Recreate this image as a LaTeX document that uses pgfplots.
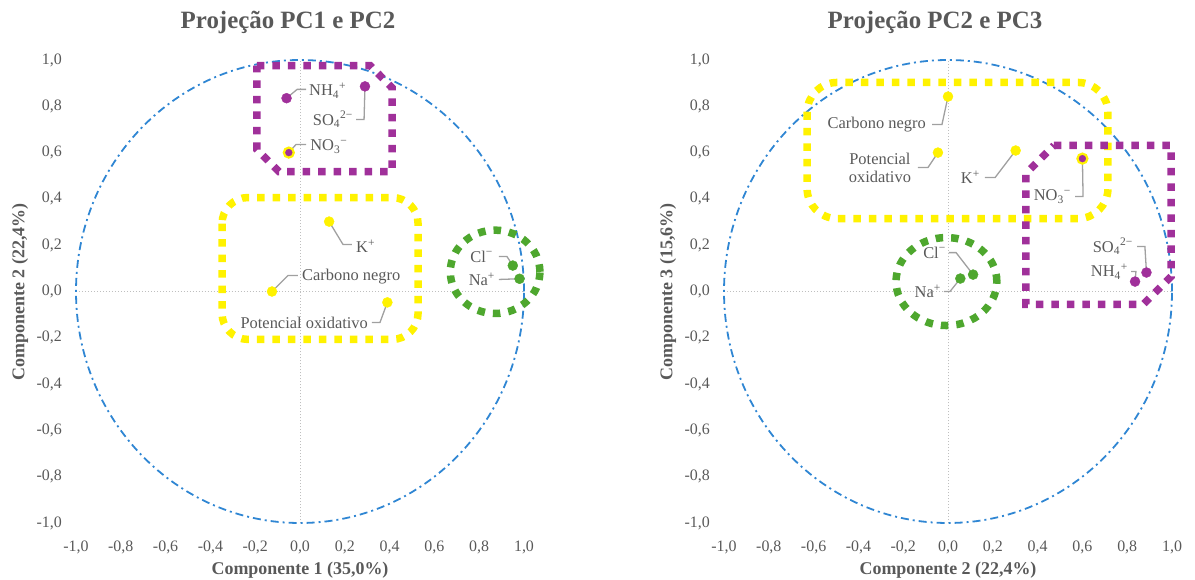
\documentclass[border=0pt]{standalone}
\usepackage{fontspec}
\setmainfont{Liberation Serif}
\usepackage{pgfplots}
\pgfplotsset{compat=1.18}
\definecolor{txt}{HTML}{595959}
\definecolor{circ}{HTML}{2F86D3}
\definecolor{ylw}{HTML}{FFF200}
\definecolor{pur}{HTML}{A0309A}
\definecolor{grn}{HTML}{4EA72E}
\definecolor{lead}{HTML}{A0A0A0}
\definecolor{zero}{HTML}{BFBFBF}
\newcommand\lbl{\fontsize{16.5}{18}\selectfont}
\tikzset{
  box/.style={line width=7.5bp, dash pattern=on 7.5bp off 8bp},
  ldr/.style={lead, line width=1.3bp},
  lab/.style={text=txt, font=\lbl, inner sep=0pt},
}
\pgfplotsset{
  pcastyle/.style={
    scale only axis, width=448bp, height=463bp,
    xmin=-1, xmax=1, ymin=-1, ymax=1,
    axis line style={draw=none},
    major tick length=0pt,
    xtick={-1,-0.8,-0.6,-0.4,-0.2,0,0.2,0.4,0.6,0.8,1},
    ytick={-1,-0.8,-0.6,-0.4,-0.2,0,0.2,0.4,0.6,0.8,1},
    xticklabels={{-1,0},{-0,8},{-0,6},{-0,4},{-0,2},{0,0},{0,2},{0,4},{0,6},{0,8},{1,0}},
    yticklabels={{-1,0},{-0,8},{-0,6},{-0,4},{-0,2},{0,0},{0,2},{0,4},{0,6},{0,8},{1,0}},
    ticklabel style={font=\fontsize{16}{18}\selectfont, text=txt},
    yticklabel style={anchor=east, inner sep=0pt, xshift=-14bp},
    xticklabel style={anchor=base, inner sep=0pt, yshift=-29bp},
    clip=false,
    anchor=south west,
  },
  pts/.style={only marks, mark=*, mark size=5bp},
}
\begin{document}
\begin{tikzpicture}
\path[use as bounding box] (0,0) rectangle (1195bp,580bp);
% titles and axis labels
\node[text=txt, font=\fontsize{25}{28}\selectfont\bfseries] at (288bp,558bp) {Projeção PC1 e PC2};
\node[text=txt, font=\fontsize{25}{28}\selectfont\bfseries] at (935bp,558bp) {Projeção PC2 e PC3};
\node[text=txt, font=\fontsize{18}{20}\selectfont\bfseries] at (300bp,10bp) {Componente 1 (35,0\%)};
\node[text=txt, font=\fontsize{18}{20}\selectfont\bfseries] at (948bp,10bp) {Componente 2 (22,4\%)};
\node[text=txt, font=\fontsize{18}{20}\selectfont\bfseries, rotate=90] at (20bp,288bp) {Componente 2 (22,4\%)};
\node[text=txt, font=\fontsize{18}{20}\selectfont\bfseries, rotate=90] at (668bp,288bp) {Componente 3 (15,6\%)};

% ---------------- left: PC1 vs PC2
\begin{axis}[pcastyle, at={(76bp,57bp)}]
\draw[zero, line width=1bp, dotted] (axis cs:-1,0) -- (axis cs:1,0);
\draw[zero, line width=1bp, dotted] (axis cs:0,-1) -- (axis cs:0,1);
\draw[circ, line width=1.8bp, dash pattern=on 8bp off 4bp on 2bp off 4bp] (axis cs:0,0) ellipse [x radius=1, y radius=1];
% groups
\draw[box, ylw, rounded corners=26bp] (axis cs:-0.348,0.406) rectangle (axis cs:0.527,-0.207);
\draw[box, pur] (axis cs:-0.192,0.976) -- (axis cs:0.313,0.976) -- (axis cs:0.411,0.88) -- (axis cs:0.411,0.518) -- (axis cs:-0.094,0.518) -- (axis cs:-0.192,0.613) -- cycle;
\draw[box, grn] (axis cs:0.871,0.085) ellipse [x radius=0.20, y radius=0.18];
% leaders
\draw[ldr] (axis cs:-0.06,0.835) -- (axis cs:-0.013,0.873) -- (axis cs:0.027,0.873);
\draw[ldr] (axis cs:0.25,0.743) -- (axis cs:0.286,0.743) -- (axis cs:0.29,0.886);
\draw[ldr] (axis cs:-0.05,0.60) -- (axis cs:-0.018,0.635) -- (axis cs:0.027,0.635);
\draw[ldr] (axis cs:0.13,0.302) -- (axis cs:0.192,0.203) -- (axis cs:0.232,0.203);
\draw[ldr] (axis cs:-0.125,0.0) -- (axis cs:-0.054,0.069) -- (axis cs:-0.009,0.069);
\draw[ldr] (axis cs:0.321,-0.134) -- (axis cs:0.357,-0.134) -- (axis cs:0.39,-0.047);
\draw[ldr] (axis cs:0.888,0.151) -- (axis cs:0.924,0.151) -- (axis cs:0.95,0.112);
\draw[ldr] (axis cs:0.888,0.052) -- (axis cs:0.98,0.055);
% points
\addplot[pts, mark options={fill=pur, draw=pur}] coordinates {(-0.06,0.835) (0.29,0.886)};
\addplot[pts, mark options={fill=pur, draw=ylw, line width=2.2bp}] coordinates {(-0.05,0.60)};
\addplot[pts, mark options={fill=ylw, draw=ylw}] coordinates {(0.13,0.302) (-0.125,0.0) (0.39,-0.047)};
\addplot[pts, mark options={fill=grn, draw=grn}] coordinates {(0.95,0.112) (0.98,0.055)};
% labels
\node[lab, anchor=west] at (axis cs:0.04,0.868) {NH\textsubscript{4}\textsuperscript{+}};
\node[lab, anchor=east] at (axis cs:0.237,0.743) {SO\textsubscript{4}\textsuperscript{2−}};
\node[lab, anchor=west] at (axis cs:0.045,0.626) {NO\textsubscript{3}\textsuperscript{−}};
\node[lab, anchor=west] at (axis cs:0.25,0.194) {K\textsuperscript{+}};
\node[lab, anchor=west] at (axis cs:0.009,0.065) {Carbono negro};
\node[lab, anchor=east] at (axis cs:0.304,-0.134) {Potencial oxidativo};
\node[lab, anchor=east] at (axis cs:0.862,0.151) {Cl\textsuperscript{−}};
\node[lab, anchor=east] at (axis cs:0.871,0.052) {Na\textsuperscript{+}};
\end{axis}

% ---------------- right: PC2 vs PC3
\begin{axis}[pcastyle, at={(724bp,57bp)}]
\draw[zero, line width=1bp, dotted] (axis cs:-1,0) -- (axis cs:1,0);
\draw[zero, line width=1bp, dotted] (axis cs:0,-1) -- (axis cs:0,1);
\draw[circ, line width=1.8bp, dash pattern=on 8bp off 4bp on 2bp off 4bp] (axis cs:0,0) ellipse [x radius=1, y radius=1];
% groups
\draw[box, ylw, rounded corners=30bp] (axis cs:-0.629,0.903) rectangle (axis cs:0.714,0.315);
\draw[box, pur] (axis cs:0.473,0.631) -- (axis cs:0.996,0.631) -- (axis cs:0.996,0.065) -- (axis cs:0.871,-0.056) -- (axis cs:0.348,-0.056) -- (axis cs:0.348,0.51) -- cycle;
\draw[box, grn] (axis cs:-0.007,0.043) ellipse [x radius=0.225, y radius=0.19];
% leaders
\draw[ldr] (axis cs:-0.071,0.721) -- (axis cs:-0.027,0.721) -- (axis cs:0.0,0.842);
\draw[ldr] (axis cs:-0.134,0.536) -- (axis cs:-0.089,0.536) -- (axis cs:-0.045,0.60);
\draw[ldr] (axis cs:0.165,0.492) -- (axis cs:0.21,0.492) -- (axis cs:0.302,0.609);
\draw[ldr] (axis cs:0.567,0.41) -- (axis cs:0.603,0.41) -- (axis cs:0.60,0.574);
\draw[ldr] (axis cs:0.844,0.194) -- (axis cs:0.879,0.194) -- (axis cs:0.886,0.082);
\draw[ldr] (axis cs:0.817,0.086) -- (axis cs:0.839,0.086) -- (axis cs:0.835,0.043);
\draw[ldr] (axis cs:0.004,0.168) -- (axis cs:0.036,0.168) -- (axis cs:0.112,0.073);
\draw[ldr] (axis cs:-0.018,0.0) -- (axis cs:0.009,0.0) -- (axis cs:0.055,0.056);
% points
\addplot[pts, mark options={fill=pur, draw=pur}] coordinates {(0.835,0.043) (0.886,0.082)};
\addplot[pts, mark options={fill=pur, draw=ylw, line width=2.2bp}] coordinates {(0.60,0.574)};
\addplot[pts, mark options={fill=ylw, draw=ylw}] coordinates {(0.302,0.609) (0.0,0.842) (-0.045,0.60)};
\addplot[pts, mark options={fill=grn, draw=grn}] coordinates {(0.112,0.073) (0.055,0.056)};
% labels
\node[lab, anchor=east] at (axis cs:-0.098,0.721) {Carbono negro};
\node[lab, align=center] at (axis cs:-0.304,0.536) {Potencial\\oxidativo};
\node[lab, anchor=east] at (axis cs:0.143,0.492) {K\textsuperscript{+}};
\node[lab, anchor=east] at (axis cs:0.549,0.41) {NO\textsubscript{3}\textsuperscript{−}};
\node[lab, anchor=east] at (axis cs:0.826,0.194) {SO\textsubscript{4}\textsuperscript{2−}};
\node[lab, anchor=east] at (axis cs:0.804,0.086) {NH\textsubscript{4}\textsuperscript{+}};
\node[lab, anchor=east] at (axis cs:-0.009,0.168) {Cl\textsuperscript{−}};
\node[lab, anchor=east] at (axis cs:-0.031,0.0) {Na\textsuperscript{+}};
\end{axis}
\end{tikzpicture}
\end{document}
